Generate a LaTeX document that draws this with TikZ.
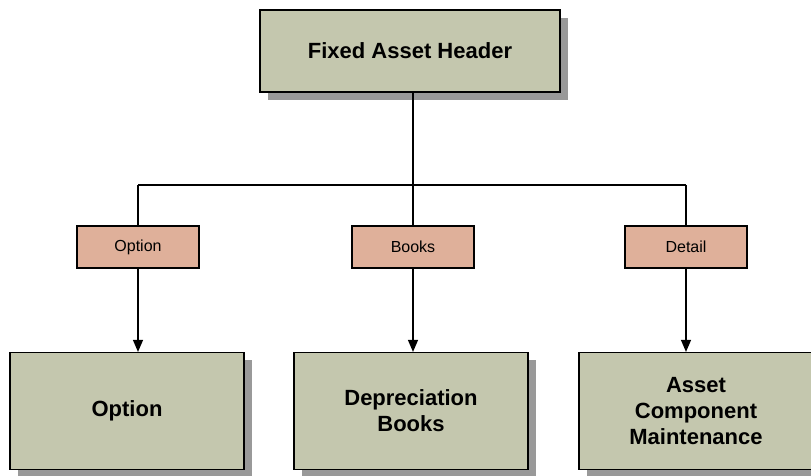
\documentclass[tikz,border=0pt]{standalone}
\usepackage{fontspec}
\setmainfont{Liberation Sans}
\usepackage{tikz}
\usetikzlibrary{arrows.meta,shadows}
\definecolor{boxgreen}{RGB}{196,199,174}
\definecolor{tagpink}{RGB}{223,176,154}
\definecolor{shadowgray}{RGB}{153,153,153}
\begin{document}
\begin{tikzpicture}[x=1bp,y=-1bp,>={Triangle[width=10bp,length=12bp]},
  line width=1.2bp,
  main node/.style={rectangle,draw,fill=boxgreen,inner sep=0pt,align=center,
    minimum width=234bp,minimum height=117bp,
    font=\fontsize{22bp}{26bp}\selectfont\bfseries,
    drop shadow={shadow xshift=8bp,shadow yshift=-8bp,fill=shadowgray,opacity=1}},
  tag node/.style={rectangle,draw,fill=tagpink,inner sep=0pt,
    minimum width=122bp,minimum height=42bp,
    font=\fontsize{16bp}{19bp}\selectfont}]
  \useasboundingbox (0,0) rectangle (811,476);
  \node[main node,minimum width=300bp,minimum height=82bp] (head) at (410,51) {Fixed Asset Header};
  \node[tag node] (t1) at (138,247) {Option};
  \node[tag node] (t2) at (413,247) {Books};
  \node[tag node] (t3) at (686,247) {Detail};
  \node[main node] (b1) at (127,411) {Option};
  \node[main node] (b2) at (411,411) {Depreciation\\Books};
  \node[main node] (b3) at (696,411) {Asset\\Component\\Maintenance};
  \coordinate (mid) at (413,185);
  \coordinate (left) at (138,185);
  \coordinate (right) at (686,185);

  \draw (head.south -| mid) -- (mid);
  \draw (left) -- (right);
  \draw (left) -- (t1.north);
  \draw (mid) -- (t2.north);
  \draw (right) -- (t3.north);
  \draw[->] (t1.south) -- (t1.south |- b1.north);
  \draw[->] (t2.south) -- (t2.south |- b2.north);
  \draw[->] (t3.south) -- (t3.south |- b3.north);
\end{tikzpicture}
\end{document}
